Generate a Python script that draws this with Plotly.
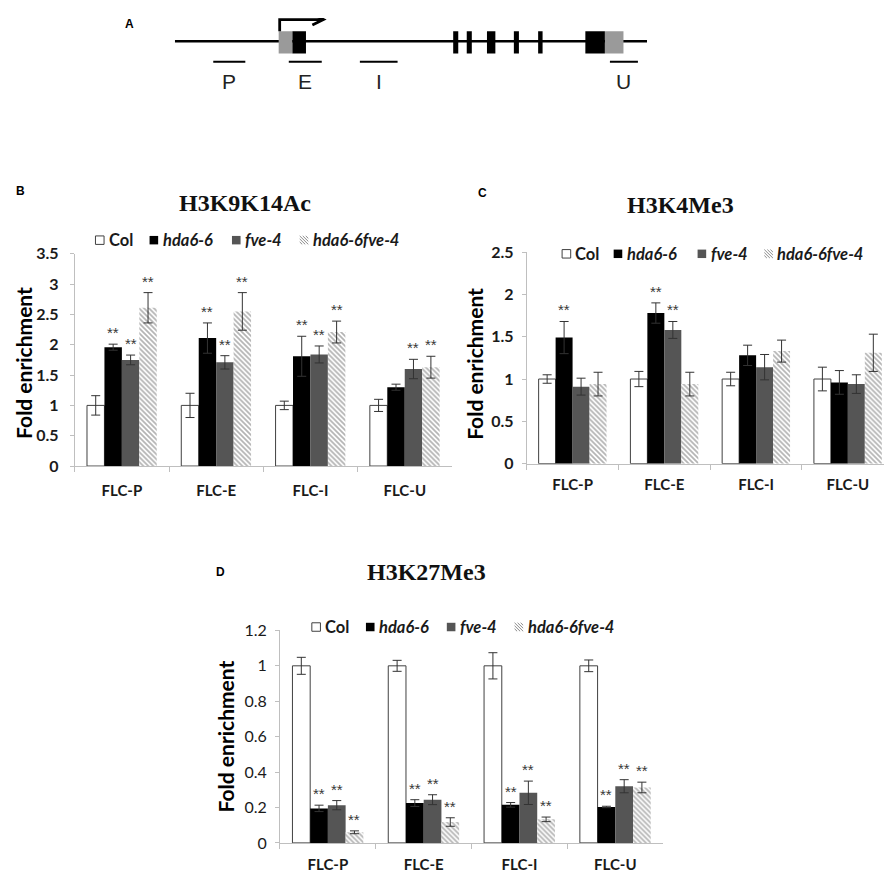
import plotly.graph_objects as go

W, H = 892, 877

categories = ["FLC-P", "FLC-E", "FLC-I", "FLC-U"]
genotypes = ["Col", "hda6-6", "fve-4", "hda6-6fve-4"]
legend_names = ["Col", "<i>hda6-6</i>", "<i>fve-4</i>", "<i>hda6-6fve-4</i>"]

# B: H3K9K14Ac
ac_col = [1.0, 1.0, 1.0, 1.0]
ac_col_err = [0.16, 0.20, 0.07, 0.10]
ac_hda = [1.96, 2.11, 1.81, 1.30]
ac_hda_err = [0.05, 0.25, 0.33, 0.05]
ac_fve = [1.75, 1.71, 1.84, 1.60]
ac_fve_err = [0.08, 0.11, 0.14, 0.16]
ac_dbl = [2.61, 2.55, 2.21, 1.63]
ac_dbl_err = [0.25, 0.31, 0.18, 0.18]
ac_sig = [["", "", "", ""], ["**", "**", "**", ""], ["**", "**", "**", "**"], ["**", "**", "**", "**"]]

# C: H3K4Me3
k4_col = [1.0, 1.0, 1.0, 1.0]
k4_col_err = [0.05, 0.09, 0.08, 0.14]
k4_hda = [1.49, 1.78, 1.28, 0.96]
k4_hda_err = [0.19, 0.12, 0.12, 0.14]
k4_fve = [0.91, 1.58, 1.14, 0.94]
k4_fve_err = [0.10, 0.10, 0.15, 0.11]
k4_dbl = [0.94, 0.94, 1.33, 1.31]
k4_dbl_err = [0.14, 0.14, 0.13, 0.22]
k4_sig = [["", "", "", ""], ["**", "**", "", ""], ["", "**", "", ""], ["", "", "", ""]]

# D: H3K27Me3
k27_col = [1.0, 1.0, 1.0, 1.0]
k27_col_err = [0.048, 0.031, 0.074, 0.033]
k27_hda = [0.195, 0.225, 0.215, 0.203]
k27_hda_err = [0.018, 0.019, 0.013, 0.004]
k27_fve = [0.213, 0.244, 0.283, 0.32]
k27_fve_err = [0.026, 0.028, 0.066, 0.037]
k27_dbl = [0.06, 0.118, 0.133, 0.313]
k27_dbl_err = [0.008, 0.024, 0.013, 0.03]
k27_sig = [["", "", "", ""], ["**", "**", "**", "**"], ["**", "**", "**", "**"], ["**", "**", "**", "**"]]

# A: FLC gene model (diagram units)
gene_length = 467
utr_boxes = [(102.7, 116.3), (425.3, 443.7)]
exon_boxes = [(116.3, 129.7), (275.3, 280.3), (288.7, 293.7), (308.7, 317.0),
              (335.3, 340.3), (359.3, 363.7), (406.0, 425.3)]
amplicon_names = ["P", "E", "I", "U"]
amplicon_start = [38.0, 112.7, 183.0, 430.3]
amplicon_end = [69.7, 145.3, 220.3, 458.0]
tss = 103.7
tss_arrow_end = 147.0

BARGAP = 0.26
AXIS_GREY = "#bfbfbf"
SANS = "Lato"

# the page capture shifts and shrinks the figure a little; positions below are
# given in picture pixels and mapped back into figure pixels here
OFF_X, OFF_Y, SC_X, SC_Y = 8.0, 16.0, 0.989, 0.982


def px(x):
    return ((x - OFF_X) / SC_X) / W


def py(y):
    return 1 - ((y - OFF_Y) / SC_Y) / H


def text_at(x, y, text, font, **kw):
    # paper-positioned label, centred unless told otherwise
    d = dict(x=px(x), y=py(y), xref="paper", yref="paper", text=text, showarrow=False,
             xanchor="center", yanchor="middle", font=font)
    d.update(kw)
    return d


panels = [
    dict(key="", title="H3K9K14Ac", letter="B", ymax=3.5,
         series=[(ac_col, ac_col_err), (ac_hda, ac_hda_err), (ac_fve, ac_fve_err), (ac_dbl, ac_dbl_err)],
         sig=ac_sig, box=(74, 447, 252.7, 465.7), title_xy=(242.7, 201.7), letter_xy=(20, 190),
         ytitle_xy=(23.3, 361.7), legend_y=239, legend_x=[94.5, 148, 229.5, 296.5], bold_ticks=True,
         standoff=14, xstand=11),
    dict(key="2", title="H3K4Me3", letter="C", ymax=2.5,
         series=[(k4_col, k4_col_err), (k4_hda, k4_hda_err), (k4_fve, k4_fve_err), (k4_dbl, k4_dbl_err)],
         sig=k4_sig, box=(521, 884, 251, 463.3), title_xy=(673.3, 204), letter_xy=(477, 192),
         ytitle_xy=(470, 363), legend_y=252.7, legend_x=[556, 607, 690, 756], bold_ticks=True,
         standoff=11, xstand=7),
    dict(key="3", title="H3K27Me3", letter="D", ymax=1.2,
         series=[(k27_col, k27_col_err), (k27_hda, k27_hda_err), (k27_fve, k27_fve_err), (k27_dbl, k27_dbl_err)],
         sig=k27_sig, box=(277, 656, 630.7, 844), title_xy=(422.3, 571.7), letter_xy=(218, 572),
         ytitle_xy=(223, 736.7), legend_y=627.3, legend_x=[308.5, 362, 442, 509], bold_ticks=False,
         standoff=11, xstand=8),
]

bar_styles = [
    dict(color="white", line=dict(color="#404040", width=1)),
    dict(color="black", line=dict(width=0)),
    dict(color="#555555", line=dict(width=0)),
    dict(color="white", line=dict(width=0),
         pattern=dict(shape="\\", fgcolor="#6a6a6a", bgcolor="white", size=3.5, solidity=0.5)),
]

fig = go.Figure()
annotations = []
shapes = []
layout_axes = {}

w = (1 - BARGAP) / 4
for p in panels:
    k = p["key"]
    x0, x1, y0, y1 = p["box"]
    for j, (vals, errs) in enumerate(p["series"]):
        fig.add_trace(go.Bar(
            x=categories, y=vals, name=genotypes[j], showlegend=False,
            xaxis="x" + k, yaxis="y" + k, marker=bar_styles[j],
            error_y=dict(type="data", array=errs, color="#333333", thickness=1, width=4.5),
        ))
        for i, s in enumerate(p["sig"][j]):
            if s:
                annotations.append(dict(
                    x=i + (j - 1.5) * w, y=vals[i] + errs[i], xref="x" + k, yref="y" + k,
                    text=s, showarrow=False, xanchor="center", yanchor="bottom", yshift=1,
                    font=dict(family="Liberation Sans", size=15, color="#383838")))

    layout_axes["xaxis" + k] = dict(
        domain=[px(x0), px(x1)], anchor="y" + k, type="category",
        showline=True, linecolor=AXIS_GREY, linewidth=1, showgrid=False, zeroline=False,
        ticks="outside", tickson="boundaries", ticklen=5, tickcolor=AXIS_GREY,
        ticklabelstandoff=p["xstand"],
        tickfont=dict(family=SANS, size=15, color="#1a1a1a", weight="bold"))
    layout_axes["yaxis" + k] = dict(
        domain=[py(y1), py(y0)], anchor="x" + k, range=[0, p["ymax"]],
        dtick=0.5 if p["ymax"] > 2 else 0.2,
        showline=True, linecolor=AXIS_GREY, linewidth=1, showgrid=False, zeroline=False,
        ticks="outside", ticklen=4, tickcolor=AXIS_GREY, ticklabelstandoff=p["standoff"] - 6,
        tickfont=dict(family=SANS, size=16, color="#1a1a1a",
                      weight="bold" if p["bold_ticks"] else "normal"))

    annotations.append(text_at(*p["title_xy"], "<b>%s</b>" % p["title"],
                               dict(family="Liberation Serif", size=24, color="#111111")))
    annotations.append(text_at(*p["letter_xy"], "<b>%s</b>" % p["letter"],
                               dict(family="Liberation Sans", size=12, color="black")))
    annotations.append(text_at(*p["ytitle_xy"], "<b>Fold enrichment</b>",
                               dict(family=SANS, size=21, color="black"), textangle=-90))

    # legend row
    ly = p["legend_y"]
    sq = 8.5
    for j, sx in enumerate(p["legend_x"]):
        if j == 3:
            shapes.append(dict(type="rect", xref="paper", yref="paper", x0=px(sx), x1=px(sx + sq),
                               y0=py(ly + sq / 2), y1=py(ly - sq / 2), line=dict(width=0), fillcolor="white"))
            for t in range(-2, 3):
                shapes.append(dict(type="line", xref="paper", yref="paper",
                                   x0=px(sx + max(0, t * 3)), y0=py(ly - sq / 2 + max(0, -t * 3)),
                                   x1=px(sx + min(sq, sq + t * 3)), y1=py(ly + sq / 2 - max(0, t * 3)),
                                   line=dict(color="#8a8a8a", width=1)))
        else:
            st = bar_styles[j]
            shapes.append(dict(type="rect", xref="paper", yref="paper", x0=px(sx), x1=px(sx + sq),
                               y0=py(ly + sq / 2), y1=py(ly - sq / 2), fillcolor=st["color"],
                               line=dict(color="#404040", width=1) if j == 0 else dict(width=0)))
        annotations.append(text_at(sx + sq + 2.5, ly, "<b>%s</b>" % legend_names[j],
                                   dict(family=SANS, size=16.5, color="#1a1a1a"), xanchor="left"))

# panel A gene diagram (y in picture pixels)
LINE_Y, BOX_TOP, BOX_BOT, AMP_Y, LAB_Y, ARROW_Y = 39.3, 29.3, 51.7, 60, 80, 17.6
A_TOP, A_BOT = OFF_Y, 95
shapes.append(dict(type="line", xref="x4", yref="y4", x0=0, x1=gene_length, y0=LINE_Y, y1=LINE_Y,
                   line=dict(color="black", width=2.5)))
for a, b in utr_boxes:
    shapes.append(dict(type="rect", xref="x4", yref="y4", x0=a, x1=b, y0=BOX_TOP, y1=BOX_BOT,
                       fillcolor="#9a9a9a", line=dict(width=0)))
for a, b in exon_boxes:
    shapes.append(dict(type="rect", xref="x4", yref="y4", x0=a, x1=b, y0=BOX_TOP, y1=BOX_BOT,
                       fillcolor="black", line=dict(width=0)))
for name, a, b in zip(amplicon_names, amplicon_start, amplicon_end):
    shapes.append(dict(type="line", xref="x4", yref="y4", x0=a, x1=b, y0=AMP_Y, y1=AMP_Y,
                       line=dict(color="black", width=2)))
    annotations.append(dict(x=(a + b) / 2, y=LAB_Y, xref="x4", yref="y4", text=name, showarrow=False,
                            xanchor="center", yanchor="middle",
                            font=dict(family="Liberation Sans", size=21, color="#222222")))
shapes.append(dict(type="path", xref="x4", yref="y4",
                   path="M %f,%f L %f,%f L %f,%f" % (tss, BOX_TOP, tss, ARROW_Y, tss_arrow_end, ARROW_Y),
                   line=dict(color="black", width=2.8)))
shapes.append(dict(type="path", xref="x4", yref="y4",
                   path="M %f,%f L %f,%f L %f,%f" % (tss_arrow_end - 11, ARROW_Y - 5.5, tss_arrow_end, ARROW_Y,
                                                     tss_arrow_end - 11, ARROW_Y + 5.5),
                   line=dict(color="black", width=2.8)))
annotations.append(text_at(128.3, 21.7, "<b>A</b>", dict(family="Liberation Sans", size=12, color="black")))

layout_axes["xaxis4"] = dict(domain=[px(173), px(640)], anchor="y4", range=[0, gene_length], visible=False)
layout_axes["yaxis4"] = dict(domain=[py(A_BOT), 1], anchor="x4", range=[A_BOT, A_TOP], visible=False)

fig.update_layout(
    width=W, height=H, margin=dict(l=0, r=0, t=0, b=0),
    paper_bgcolor="white", plot_bgcolor="white",
    barmode="group", bargap=BARGAP, bargroupgap=0,
    showlegend=False, annotations=annotations, shapes=shapes,
    **layout_axes,
)

fig.write_html("out.html")
